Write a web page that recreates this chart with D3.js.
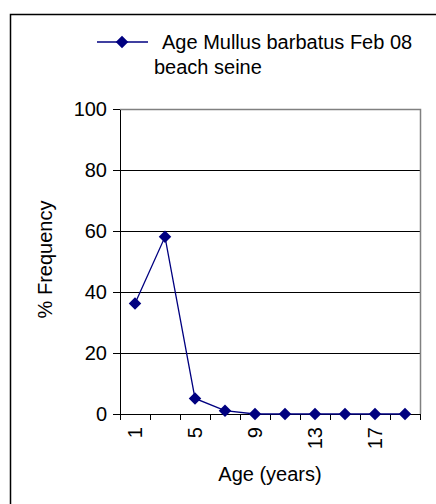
<!DOCTYPE html>
<meta charset="utf-8">
<style>
    body { margin: 0; background: #fff; }
    svg text { font-family: "Liberation Sans", Arial, sans-serif; fill: #000; }
    .axis path, .axis line { stroke: #000; shape-rendering: crispEdges; }
    .grid line { shape-rendering: crispEdges; }
</style>
<svg id="chart" width="436" height="504"></svg>
<script src="https://cdn.jsdelivr.net/npm/d3@7/dist/d3.min.js"></script>
<script>
    var ages = ["1", "3", "5", "7", "9", "11", "13", "15", "17", "19"];
    var frequency = [36.2, 58.1, 5.1, 1.1, 0, 0, 0, 0, 0, 0];
    var yTicks = [0, 20, 40, 60, 80, 100];
    var seriesName = ["Age Mullus barbatus Feb 08", "beach seine"];

    var svg = d3.select("#chart");
    var pLeft = 120, pTop = 109, pRight = 420, pBottom = 414;
    var fs = "20px";

    // outer chart frame
    svg.append("rect")
        .attr("x", 10.5).attr("y", 14.5)
        .attr("width", 440).attr("height", 500)
        .attr("fill", "#fff").attr("stroke", "#000").attr("stroke-width", 1.5);

    var x = d3.scaleBand().domain(ages).range([pLeft, pRight]);
    var y = d3.scaleLinear().domain([0, 100]).range([pBottom, pTop]);

    // gridlines
    svg.append("g").attr("class", "grid").selectAll("line")
        .data(yTicks.filter(function (d) { return d > 0 && d < 100; }))
        .enter().append("line")
        .attr("x1", pLeft).attr("x2", pRight)
        .attr("y1", function (d) { return Math.round(y(d)) + 0.5; })
        .attr("y2", function (d) { return Math.round(y(d)) + 0.5; })
        .attr("stroke", "#000").attr("stroke-width", 1);

    // plot area top/right in gray
    svg.append("path")
        .attr("d", "M" + pLeft + "," + (y(100) + 0.5) + "H" + (pRight + 0.5) + "V" + pBottom)
        .attr("fill", "none").attr("stroke", "#808080").attr("stroke-width", 1.5);

    // y axis
    var yAxis = svg.append("g").attr("class", "axis")
        .attr("transform", "translate(" + pLeft + ",0)")
        .call(d3.axisLeft(y).tickValues(yTicks).tickSize(7).tickPadding(6).tickSizeOuter(0));
    yAxis.selectAll("text").style("font-size", fs);

    // x axis (labels at category centers, every other one)
    var xAxis = svg.append("g").attr("class", "axis")
        .attr("transform", "translate(0," + pBottom + ")")
        .call(d3.axisBottom(x).tickSize(0).tickSizeOuter(0)
            .tickFormat(function (d, i) { return i % 2 === 0 ? d : ""; }));
    xAxis.selectAll("text")
        .style("font-size", fs)
        .attr("transform", "rotate(-90)")
        .attr("text-anchor", "end")
        .attr("x", -13).attr("y", 0).attr("dy", "0.35em");

    // x tick marks between categories
    var bounds = ages.map(function (d) { return x(d); }).concat([x.range()[1]]);
    xAxis.selectAll(".bound").data(bounds).enter().append("line")
        .attr("class", "bound")
        .attr("x1", function (d) { return d; }).attr("x2", function (d) { return d; })
        .attr("y1", 0).attr("y2", 6);

    // axis titles
    svg.append("text")
        .attr("x", (pLeft + pRight) / 2).attr("y", 481)
        .attr("text-anchor", "middle").style("font-size", fs)
        .text("Age (years)");
    svg.append("text")
        .attr("transform", "translate(52," + (y(50) - 2) + ") rotate(-90)")
        .attr("text-anchor", "middle").style("font-size", fs)
        .text("% Frequency");

    // series
    var line = d3.line()
        .x(function (d, i) { return x(ages[i]) + x.bandwidth() / 2; })
        .y(function (d) { return y(d); });
    svg.append("path").datum(frequency)
        .attr("d", line)
        .attr("fill", "none").attr("stroke", "#000080").attr("stroke-width", 1.3);

    var diamond = d3.symbol().type(d3.symbolDiamond2).size(100);
    svg.append("g").selectAll("path")
        .data(frequency).enter().append("path")
        .attr("d", diamond)
        .attr("fill", "#000080")
        .attr("transform", function (d, i) {
            return "translate(" + (x(ages[i]) + x.bandwidth() / 2) + "," + y(d) + ")";
        });

    // legend
    var lg = svg.append("g");
    lg.append("line").attr("x1", 97).attr("x2", 148).attr("y1", 42).attr("y2", 42)
        .attr("stroke", "#000080").attr("stroke-width", 1.3);
    lg.append("path").attr("d", diamond).attr("fill", "#000080")
        .attr("transform", "translate(122,42)");
    lg.append("text").attr("x", 162).attr("y", 49).style("font-size", fs).text(seriesName[0]);
    lg.append("text").attr("x", 154).attr("y", 74).style("font-size", fs).text(seriesName[1]);
</script>
